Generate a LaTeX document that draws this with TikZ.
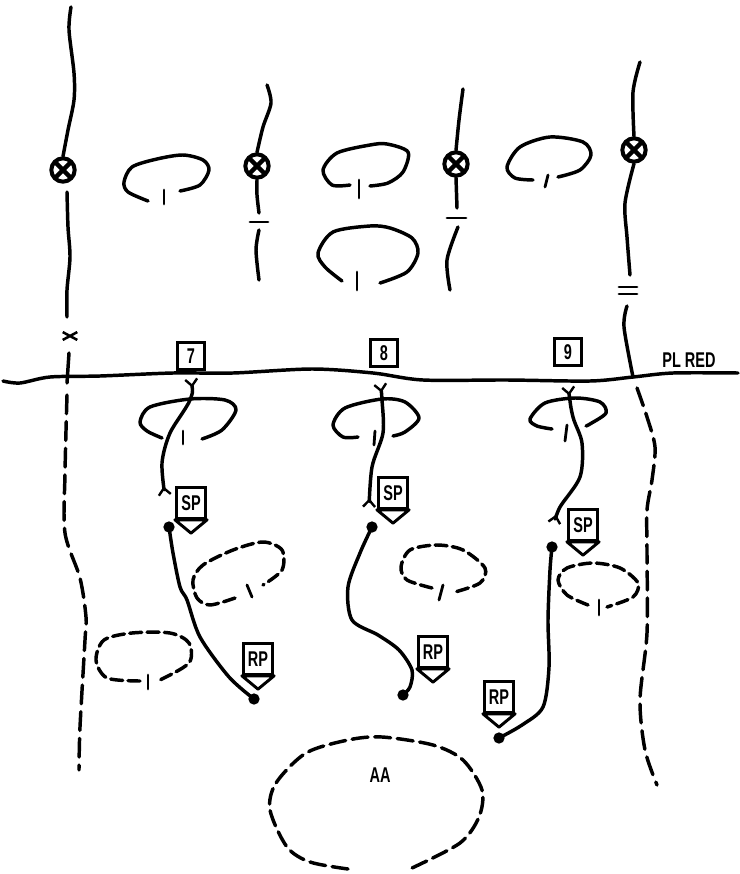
\documentclass[tikz,border=0pt]{standalone}
\usepackage{fontspec}
\newfontfamily\handfont[FakeStretch=0.68]{Liberation Sans}
\usetikzlibrary{arrows.meta, shapes.misc, positioning}
\tikzset{
    % Solid pen stroke shared by boundaries, loops and routes
    pen/.style={line width=2.6pt, line cap=round, line join=round},
    boundary/.style={pen},
    % Short marks on loops and boundaries
    tick mark/.style={line width=2.1pt, line cap=round},
    % Dashed boundaries and the three sizes of dash
    long dash/.style={pen, dash pattern=on 14pt off 6pt},
    mid dash/.style={pen, dash pattern=on 12pt off 5pt},
    short dash/.style={pen, dash pattern=on 9pt off 4pt},
    % Route with a fork at both ends
    route/.style={pen, arrows={Straight Barb[reversed, length=5pt, width=9pt, line width=1.8pt]-Straight Barb[reversed, length=5pt, width=9pt, line width=1.8pt]}},
    % Circle with a cross on a boundary
    obstacle/.style={circle, draw, line width=3pt, minimum size=17.5pt, inner sep=0pt,
        path picture={
            \draw[line width=3.2pt] (path picture bounding box.north west) -- (path picture bounding box.south east);
            \draw[line width=3.2pt] (path picture bounding box.north east) -- (path picture bounding box.south west);
        }},
    % Free lettering
    letter/.style={font=\handfont\bfseries\fontsize{16}{17}\selectfont, inner sep=0pt},
    % Numbered square above the phase line
    number box/.style={letter, draw, line width=2.2pt, minimum size=20.5pt},
    % Box with a pointer below it
    point box/.style={letter, draw, line width=2.2pt, minimum width=22pt, minimum height=23pt,
        append after command={\pgfextra{
            \draw[line width=2.2pt, line join=round] (\tikzlastnode.south west) -- ([yshift=-10pt]\tikzlastnode.south) -- (\tikzlastnode.south east) -- cycle;
        }}},
    point dot/.style={circle, fill=black, minimum size=8.5pt, inner sep=0pt},
    cross mark/.style={cross out, draw, line width=1.9pt, minimum width=9pt, minimum height=4pt, inner sep=0pt}
}
\begin{document}
\begin{tikzpicture}[x=0.75pt, y=-0.75pt]
    \useasboundingbox (0,0) rectangle (739,874);

    % --- Set up nodes ---
    \node[obstacle] (Obs1) at (63,170) {};
    \node[obstacle] (Obs2) at (257,166) {};
    \node[obstacle] (Obs3) at (456,164) {};
    \node[obstacle] (Obs4) at (634,150) {};
    \node[number box] (Box7) at (191,356) {7};
    \node[number box] (Box8) at (384,353) {8};
    \node[number box] (Box9) at (568,352) {9};
    \node[point box] (SP1) at (191,503) {SP};
    \node[point box] (SP2) at (393,493) {SP};
    \node[point box] (SP3) at (583,525) {SP};
    \node[point box] (RP1) at (258,659) {RP};
    \node[point box] (RP2) at (433,652) {RP};
    \node[point box] (RP3) at (499,697) {RP};
    \node[point dot] (Dot1) at (169,527) {};
    \node[point dot] (Dot2) at (372,527) {};
    \node[point dot] (Dot3) at (552,547) {};
    \node[point dot] (End1) at (254,699) {};
    \node[point dot] (End2) at (403,695) {};
    \node[point dot] (End3) at (499,738) {};
    \node[cross mark] (Mark1) at (70,336) {};
    \node[letter] (PlRed) at (689,360) {PL RED};
    \node[letter] (AreaAA) at (380,775) {AA};

    % --- Phase line ---
    \draw[boundary] plot[smooth] coordinates {(3,381) (20,383) (50,377) (100,376) (173,373) (233,373) (312,369) (373,373) (423,380) (507,380) (590,381) (633,377) (673,373) (738,373)};

    % --- Boundaries above the line ---
    \draw[boundary] plot[smooth] coordinates {(71,7) (69,30) (74,73) (74,100) (68,130) (Obs1.north)};
    \draw[boundary] plot[smooth] coordinates {(67,192) (68,227) (70,257) (67,290) (67,317)};
    \draw[boundary] plot[smooth] coordinates {(69,353) (67,383)};
    \draw[boundary] plot[smooth] coordinates {(267,85) (271,103) (263,127) (Obs2.north)};
    \draw[boundary] plot[smooth] coordinates {(Obs2.south) (257,195) (259,213)};
    \draw[boundary] plot[smooth] coordinates {(259,230) (256,250) (259,280)};
    \draw[boundary] plot[smooth] coordinates {(463,89) (459,120) (Obs3.north)};
    \draw[boundary] plot[smooth] coordinates {(Obs3.south) (457,208)};
    \draw[boundary] plot[smooth] coordinates {(458,227) (447,260) (450,290)};
    \draw[boundary] plot[smooth] coordinates {(640,62) (633,92) (Obs4.north)};
    \draw[boundary] plot[smooth] coordinates {(Obs4.south) (625,203) (627,237) (630,275)};
    \draw[boundary] plot[smooth] coordinates {(627,306) (624,327) (633,377)};

    % --- Ticks across the boundaries ---
    \draw[tick mark] (250,222) -- (268,222);
    \draw[tick mark] (447,218) -- (466,218);
    \draw[tick mark] (619,287) -- (637,287);
    \draw[tick mark] (619,294) -- (637,294);

    % --- Dashed boundaries below the line ---
    \draw[long dash] plot[smooth] coordinates {(67,395) (65,473) (65,533) (80,578) (86,617) (85,640) (80,727) (79,770)};
    \draw[long dash] plot[smooth] coordinates {(637,388) (647,417) (655,447) (652,480) (647,510) (647,553) (647,633) (640,700) (645,750) (657,785)};

    % --- Solid loops with tick ---
    \draw[pen] plot[smooth] coordinates {(148,201) (128,192) (124,182) (132,167) (157,159) (183,155) (203,160) (209,170) (200,185) (180,191)};
    \draw[tick mark] (164,190) -- (164,204);
    \draw[pen] plot[smooth] coordinates {(350,185) (332,185) (323,170) (337,153) (370,145) (387,144) (408,152) (403,172) (388,183) (370,186)};
    \draw[tick mark] (359,180) -- (359,198);
    \draw[pen] plot[smooth] coordinates {(342,281) (325,267) (318,253) (333,232) (370,226) (390,228) (412,238) (418,253) (407,272) (380,283)};
    \draw[tick mark] (357,272) -- (357,290);
    \draw[pen] plot[smooth] coordinates {(533,180) (515,178) (507,167) (520,147) (550,137) (583,142) (591,155) (580,170) (558,177)};
    \draw[tick mark] (548,175) -- (545,187);

    % --- Loops crossed by routes ---
    \draw[pen] plot[smooth] coordinates {(162,438) (147,431) (140,422) (150,407) (190,399) (225,400) (236,410) (222,430) (202,439)};
    \draw[tick mark] (183,431) -- (183,444);
    \draw[pen] plot[smooth] coordinates {(358,437) (343,437) (333,425) (345,408) (382,399) (405,402) (419,418) (405,432) (393,436)};
    \draw[tick mark] (375,431) -- (374,445);
    \draw[pen] plot[smooth] coordinates {(552,429) (537,426) (530,419) (545,403) (575,398) (600,402) (606,413) (590,424) (586,426)};
    \draw[tick mark] (567,425) -- (565,441);

    % --- Routes from the line to the points ---
    \draw[route] plot[smooth] coordinates {(191,378) (190,400) (170,433) (162,463) (165,496)};
    \draw[route] plot[smooth] coordinates {(380,383) (382,400) (383,433) (372,467) (369,508)};
    \draw[route] plot[smooth] coordinates {(568,386) (573,417) (582,443) (580,477) (560,507) (554,524)};
    \draw[pen] plot[smooth] coordinates {(Dot1) (173,553) (180,587) (187,600) (200,637) (229,677) (End1)};
    \draw[pen] plot[smooth] coordinates {(Dot2) (360,553) (348,587) (352,620) (378,635) (399,650) (412,670) (410,687) (End2)};
    \draw[pen] plot[smooth] coordinates {(Dot3) (550,570) (548,620) (549,667) (543,707) (522,725) (End3)};

    % --- Dashed loops with tick ---
    \draw[short dash] plot[smooth] coordinates {(235,598) (210,605) (197,598) (193,580) (203,565) (233,550) (263,542) (282,550) (282,570) (263,585)};
    \draw[tick mark] (247,585) -- (252,597);
    \draw[short dash] plot[smooth] coordinates {(432,588) (407,580) (401,567) (410,550) (437,545) (463,550) (485,568) (480,583) (455,592)};
    \draw[tick mark] (443,585) -- (439,600);
    \draw[short dash] plot[smooth] coordinates {(588,605) (567,595) (558,580) (567,568) (593,563) (620,568) (638,583) (633,597) (607,607)};
    \draw[tick mark] (599,600) -- (599,615);
    \draw[short dash] plot[smooth] coordinates {(140,681) (107,678) (96,660) (104,640) (132,633) (170,633) (189,643) (189,663) (160,680)};
    \draw[tick mark] (148,675) -- (148,689);

    % --- Assembly area ---
    \draw[mid dash] plot[smooth] coordinates {(348,869) (310,862) (287,847) (270,810) (276,783) (306,753) (348,740) (382,737) (433,745) (463,760) (482,790) (479,817) (460,843) (412,868)};
\end{tikzpicture}
\end{document}
